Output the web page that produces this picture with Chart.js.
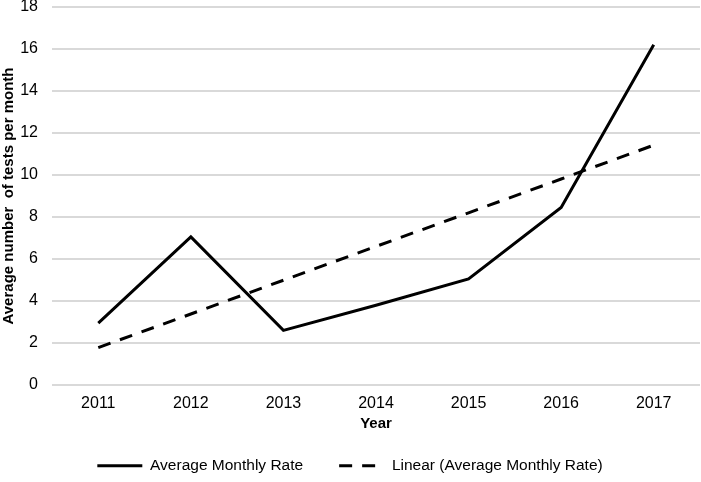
<!DOCTYPE html>
<html>
<head>
<meta charset="utf-8">
<script src="https://cdn.jsdelivr.net/npm/chart.js@4"></script>
<style>
  html, body { margin: 0; padding: 0; background: #fff; }
  #wrap { width: 701px; height: 482px; }
</style>
</head>
<body>
<div id="wrap"><canvas id="chart"></canvas></div>
<script>
const years = ["2011", "2012", "2013", "2014", "2015", "2016", "2017"];
const monthlyRate = [2.95, 7.05, 2.6, 3.8, 5.05, 8.45, 16.2];
const linearTrend = [1.78, 3.38, 4.99, 6.6, 8.2, 9.81, 11.42];
const yTicks = [0, 2, 4, 6, 8, 10, 12, 14, 16, 18];

Chart.defaults.font.family = "'Liberation Sans', Arial, sans-serif";
Chart.defaults.color = "#000";

const chartConfig = {
  type: "line",
  data: {
    labels: years,
    datasets: [
      {
        label: "Average Monthly Rate",
        data: monthlyRate,
        borderColor: "#000",
        backgroundColor: "#000",
        borderWidth: 3,
        pointRadius: 0,
        tension: 0,
      },
      {
        label: "Linear (Average Monthly Rate)",
        data: linearTrend,
        borderColor: "#000",
        backgroundColor: "#000",
        borderWidth: 3,
        borderDash: [13, 10],
        pointRadius: 0,
        tension: 0,
      },
    ],
  },
  options: {
    responsive: true,
    maintainAspectRatio: false,
    animation: false,
    layout: { padding: { top: 7, right: 1, left: 0, bottom: 0 } },
    plugins: {
      legend: {
        position: "bottom",
        maxHeight: 60,
        labels: {
          usePointStyle: true,
          pointStyle: "line",
          pointStyleWidth: 45,
          boxHeight: 15,
          padding: 36,
          font: { size: 15.5 },
          color: "#000",
          generateLabels: (chart) => {
            const items = Chart.defaults.plugins.legend.labels.generateLabels(chart);
            items.forEach((item) => {
              const ds = chart.data.datasets[item.datasetIndex];
              item.lineDash = ds.borderDash || [];
              item.lineWidth = 3;
            });
            return items;
          },
        },
      },
      tooltip: { enabled: false },
    },
    scales: {
      x: {
        offset: true,
        afterFit: (axis) => {
          axis.height = 37;
        },
        grid: { display: false, drawTicks: false },
        border: { display: false },
        ticks: { padding: 9, font: { size: 16 } },
        title: {
          display: true,
          text: "Year",
          font: { size: 15, weight: "bold" },
          padding: { top: 0, bottom: -11 },
        },
      },
      y: {
        min: 0,
        max: 18,
        afterBuildTicks: (axis) => {
          axis.ticks = yTicks.map((v) => ({ value: v }));
        },
        afterFit: (axis) => {
          axis.width = 52;
          axis.paddingTop = 0;
          axis.paddingBottom = 0;
        },
        grid: { color: "#d9d9d9", lineWidth: 2, drawTicks: false },
        border: { display: false },
        ticks: { padding: 14, font: { size: 16 } },
        title: {
          display: true,
          text: "Average number  of tests per month",
          font: { size: 15, weight: "bold" },
          padding: { top: 0, bottom: 3 },
        },
      },
    },
  },
};

new Chart(document.getElementById("chart"), chartConfig);
</script>
</body>
</html>
